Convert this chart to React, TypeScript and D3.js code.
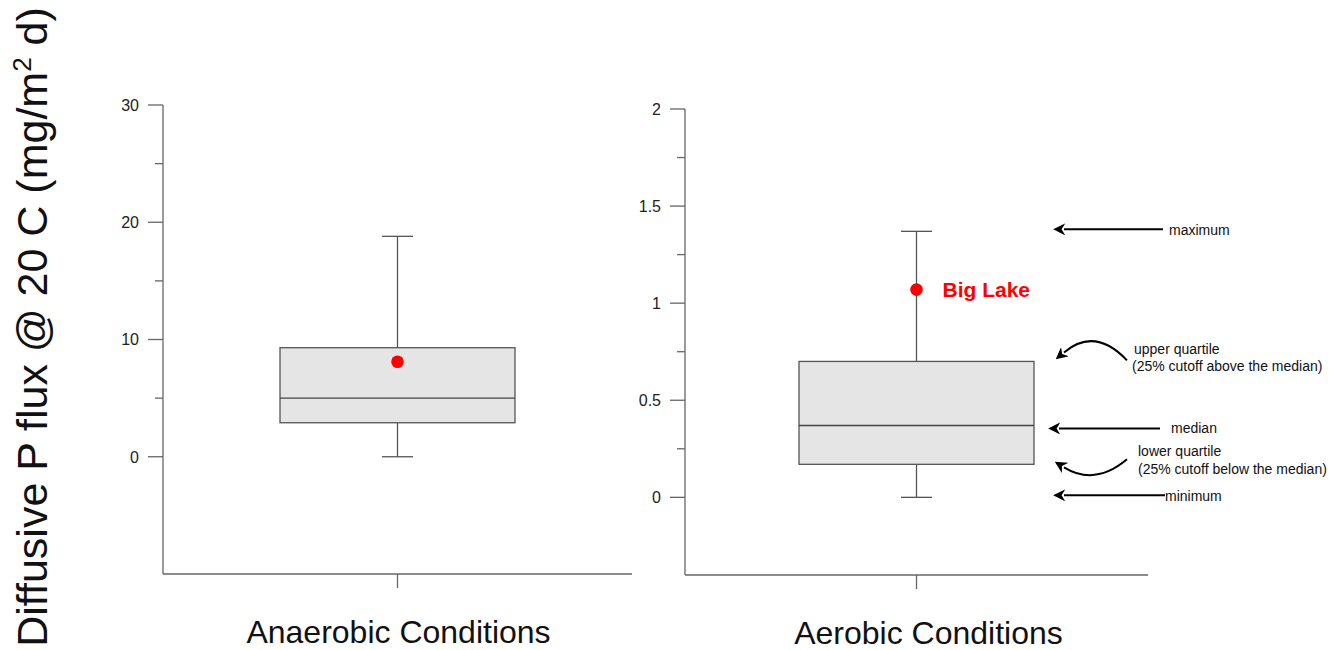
import React from "react";
import * as d3 from "d3";

const categories = ["Anaerobic Conditions", "Aerobic Conditions"];
// box stats: min, q1, median, q3, max
const anaerobicStats = [0, 2.9, 5.0, 9.3, 18.8];
const aerobicStats = [0, 0.17, 0.37, 0.7, 1.37];
const bigLakeValues = [8.1, 1.07];
const leftTicks = [0, 10, 20, 30];
const leftMinorTicks = [5, 15, 25];
const rightTicks = [0, 0.5, 1, 1.5, 2];
const rightMinorTicks = [0.25, 0.75, 1.25, 1.75];
const annotationLabels = ["maximum", "upper quartile", "(25% cutoff above the median)", "median", "lower quartile", "(25% cutoff below the median)", "minimum"];

const FONT = "'Liberation Sans', Arial, sans-serif";
const AXIS = "#666";

type PanelProps = {
  cat: string;
  stats: number[];
  dot: number;
  domain: [number, number];
  yRange: [number, number];
  xRange: [number, number];
  ticks: number[];
  minor: number[];
  labelRight: number;
  catDx: number;
  showLabel?: boolean;
};

function Panel(p: PanelProps) {
  const y = d3.scaleLinear().domain(p.domain).range(p.yRange);
  const x = d3.scalePoint<string>().domain([p.cat]).range(p.xRange).padding(0.5);
  const cx = x(p.cat) as number;
  const bw = 235;
  const cap = 31;
  const [mn, q1, med, q3, mx] = p.stats;
  const x0 = p.xRange[0];
  const bottom = p.yRange[0];
  const top = p.yRange[1];
  return (
    <g>
      <line x1={x0} x2={x0} y1={top} y2={bottom} stroke={AXIS} strokeWidth={1.3} />
      {p.ticks.map((t) => (
        <g key={"t" + t}>
          <line x1={x0 - 15} x2={x0} y1={y(t)} y2={y(t)} stroke={AXIS} strokeWidth={1.3} />
          <text x={p.labelRight} y={y(t)} dy="0.36em" textAnchor="end" fontSize={16} fontFamily={FONT} fill="#222">
            {d3.format("~g")(t)}
          </text>
        </g>
      ))}
      {p.minor.map((t) => (
        <line key={"m" + t} x1={x0 - 8} x2={x0} y1={y(t)} y2={y(t)} stroke={AXIS} strokeWidth={1.3} />
      ))}
      <line x1={x0} x2={p.xRange[1]} y1={bottom} y2={bottom} stroke={AXIS} strokeWidth={1.3} />
      <line x1={cx} x2={cx} y1={bottom} y2={bottom + 14} stroke={AXIS} strokeWidth={1.3} />
      <text x={cx + p.catDx} y={bottom + 69} textAnchor="middle" fontSize={32} fontFamily={FONT} fill="#111">
        {p.cat}
      </text>
      <line x1={cx} x2={cx} y1={y(mx)} y2={y(q3)} stroke="#555" strokeWidth={1.3} />
      <line x1={cx} x2={cx} y1={y(q1)} y2={y(mn)} stroke="#555" strokeWidth={1.3} />
      <line x1={cx - cap / 2} x2={cx + cap / 2} y1={y(mx)} y2={y(mx)} stroke="#555" strokeWidth={1.3} />
      <line x1={cx - cap / 2} x2={cx + cap / 2} y1={y(mn)} y2={y(mn)} stroke="#555" strokeWidth={1.3} />
      <rect x={cx - bw / 2} y={y(q3)} width={bw} height={y(q1) - y(q3)} fill="#e5e5e5" stroke="#555" strokeWidth={1.3} />
      <line x1={cx - bw / 2} x2={cx + bw / 2} y1={y(med)} y2={y(med)} stroke="#444" strokeWidth={1.3} />
      <circle cx={cx} cy={y(p.dot)} r={6.3} fill="#ff0000" />
      {p.showLabel && (
        <text x={cx + 26} y={y(p.dot)} dy="0.36em" fontSize={21} fontWeight="bold" fontFamily={FONT} fill="#ff0000">
          Big Lake
        </text>
      )}
    </g>
  );
}

export default function App() {
  const yR = d3.scaleLinear().domain([-0.4, 2]).range([575, 109]);
  const s = aerobicStats;
  const annFont = { fontSize: 14, fontFamily: FONT, fill: "#111" } as const;
  return (
    <svg width={1334} height={650} style={{ position: "absolute", left: 0, top: 0, background: "#fff" }}>
      <defs>
        <marker id="ah" viewBox="0 0 10 10" refX={1} refY={5} markerWidth={6} markerHeight={6} orient="auto-start-reverse" markerUnits="strokeWidth">
          <path d="M0,0 L10,5 L0,10 L3,5 Z" fill="#000" />
        </marker>
      </defs>
      <text transform="translate(47,327) rotate(-90)" textAnchor="middle" fontSize={43} fontFamily={FONT} fill="#111">
        Diffusive P flux @ 20 C (mg/m<tspan dy={-16} fontSize={26}>2</tspan><tspan dy={16}> d)</tspan>
      </text>
      <Panel
        cat={categories[0]}
        stats={anaerobicStats}
        dot={bigLakeValues[0]}
        domain={[-10, 30]}
        yRange={[574, 105]}
        xRange={[163, 632]}
        ticks={leftTicks}
        minor={leftMinorTicks}
        labelRight={139}
        catDx={1}
      />
      <Panel
        cat={categories[1]}
        stats={aerobicStats}
        dot={bigLakeValues[1]}
        domain={[-0.4, 2]}
        yRange={[575, 109]}
        xRange={[685, 1148]}
        ticks={rightTicks}
        minor={rightMinorTicks}
        labelRight={661}
        catDx={12}
        showLabel
      />
      <g stroke="#000" strokeWidth={2} fill="none">
        <line x1={1163} x2={1064} y1={yR(s[4]) - 2} y2={yR(s[4]) - 2} markerEnd="url(#ah)" />
        <line x1={1160} x2={1059} y1={yR(s[2]) + 3} y2={yR(s[2]) + 3} markerEnd="url(#ah)" />
        <line x1={1165} x2={1064} y1={yR(s[0]) - 2} y2={yR(s[0]) - 2} markerEnd="url(#ah)" />
        <path d={`M1127,${yR(s[3]) - 1} Q1095,${yR(s[3]) - 35} 1064,${yR(s[3]) - 9}`} markerEnd="url(#ah)" />
        <path d={`M1127,${yR(s[1]) - 5} Q1095,${yR(s[1]) + 22} 1064,${yR(s[1]) + 3}`} markerEnd="url(#ah)" />
      </g>
      <text x={1169} y={yR(s[4]) + 4} {...annFont}>{annotationLabels[0]}</text>
      <text x={1134} y={yR(s[3]) - 7} {...annFont}>{annotationLabels[1]}</text>
      <text x={1132} y={yR(s[3]) + 10} {...annFont}>{annotationLabels[2]}</text>
      <text x={1171} y={yR(s[2]) + 8} {...annFont}>{annotationLabels[3]}</text>
      <text x={1138} y={yR(s[1]) - 8} {...annFont}>{annotationLabels[4]}</text>
      <text x={1138} y={yR(s[1]) + 10} {...annFont}>{annotationLabels[5]}</text>
      <text x={1165} y={yR(s[0]) + 4} {...annFont}>{annotationLabels[6]}</text>
    </svg>
  );
}
